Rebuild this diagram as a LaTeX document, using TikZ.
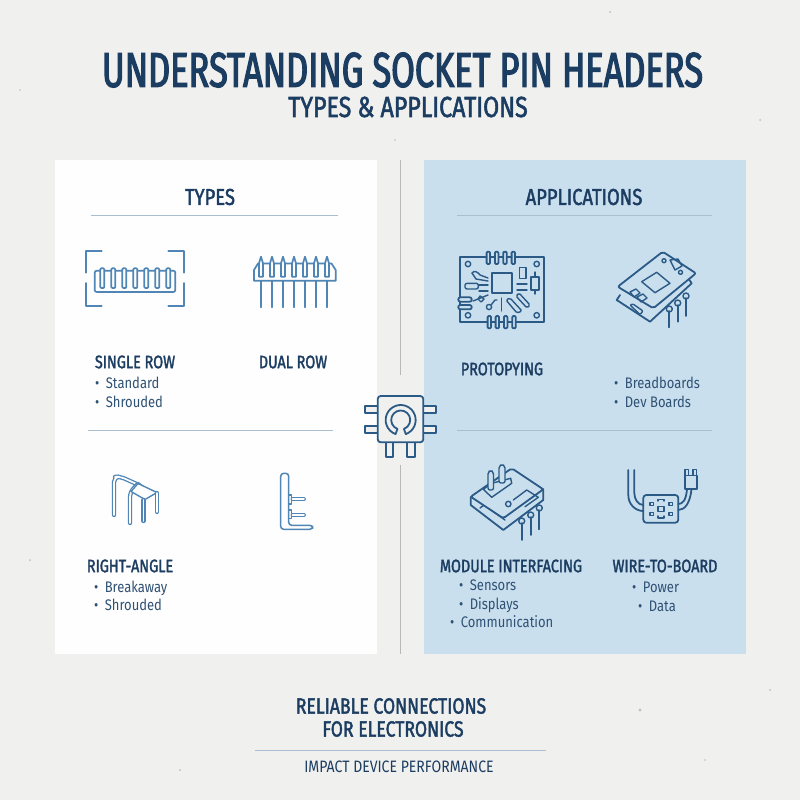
\documentclass[tikz,border=0pt]{standalone}
\usepackage{fontspec}
\setmainfont[FakeStretch=.85]{Fira Sans}
\newfontfamily\headfont[FakeStretch=.80,FakeBold=1.8]{Fira Sans}
\newfontfamily\titlefont[FakeStretch=.70,FakeBold=2.4]{Fira Sans}
\usetikzlibrary{positioning}
\definecolor{paper}{HTML}{F0F0EE}
\definecolor{panelblue}{HTML}{CADFEE}
\definecolor{navy}{HTML}{1C3D62}
\definecolor{itemblue}{HTML}{2F5174}
\definecolor{iconlight}{HTML}{4F86B5}
\definecolor{icondark}{HTML}{2B5A86}
\definecolor{rulelight}{HTML}{A9BFD0}
\tikzset{
	headtext/.style={text=navy,inner sep=0pt,font=\headfont\fontsize{18}{18}\selectfont},
	itemtext/.style={text=itemblue,anchor=west,inner sep=0pt,text height=10.5pt,text depth=0pt,font=\fontsize{15.3}{15.3}\selectfont},
	sectext/.style={text=navy,inner sep=0pt,font=\headfont\fontsize{23}{23}\selectfont},
	foottext/.style={text=navy,inner sep=0pt,font=\headfont\fontsize{22}{22}\selectfont},
	divider/.style={rulelight,line width=1pt},
	iconl/.style={iconlight,line width=1.7pt,line join=round,line cap=round},
	icond/.style={icondark,line width=1.8pt,line join=round,line cap=round},
	iconthin/.style={icondark,line width=1.4pt,line join=round,line cap=round},
	tubel/.style={iconlight,line width=1.3pt,double=white,double distance=1.7pt,line cap=round,line join=round},
}
\newcommand{\itembullet}{•\hspace{.42em}}
\begin{document}
\begin{tikzpicture}[x=1pt,y=-1pt]
	\useasboundingbox (0,0) rectangle (800,800);
	\fill[paper] (0,0) rectangle (800,800);
	\foreach \sx/\sy/\sr in {640/710/1.6,610/12/1,760/120/1,30/560/1,180/770/1,395/140/.8,770/690/1,20/90/.8,705/760/.8}
		\fill[black!25] (\sx,\sy) circle (\sr);
	\fill[white!70!paper!20!white] (55,160) rectangle (377,654);
	\fill[panelblue] (424,160) rectangle (746,654);
	\draw[black!28,line width=1pt] (400,160) -- (400,375);
	\draw[black!28,line width=1pt] (400,465) -- (400,654);

	\node[text=navy,inner sep=0pt,font=\titlefont\fontsize{49}{49}\selectfont] (title) at (402.5,70) {UNDERSTANDING SOCKET PIN HEADERS};
	\node[text=navy,inner sep=0pt,font=\headfont\fontsize{29}{29}\selectfont] (subtitle) at (408,107) {TYPES \& APPLICATIONS};

	\node[sectext] (types) at (210,197) {TYPES};
	\draw[divider] (91,215) -- (338,215);
	\node[sectext] (applications) at (584,197) {APPLICATIONS};
	\draw[divider] (457,215) -- (712,215);
	\draw[divider] (88,430) -- (333,430);
	\draw[divider] (457,430) -- (712,430);

	\node[headtext] (single) at (135,362) {SINGLE ROW};
	\node[itemtext] (single1) at (95,383) {\itembullet Standard};
	\node[itemtext] (single2) at (95,402) {\itembullet Shrouded};
	\node[headtext] (dual) at (293,362) {DUAL ROW};
	\node[headtext] (angle) at (130,566) {RIGHT-ANGLE};
	\node[itemtext] (angle1) at (94,587) {\itembullet Breakaway};
	\node[itemtext] (angle2) at (94,605) {\itembullet Shrouded};
	\node[headtext] (proto) at (502,369) {PROTOPYING};
	\node[itemtext] (proto1) at (614,383) {\itembullet Breadboards};
	\node[itemtext] (proto2) at (614,402) {\itembullet Dev Boards};
	\node[headtext] (module) at (511,566) {MODULE INTERFACING};
	\node[itemtext] (module1) at (459,585) {\itembullet Sensors};
	\node[itemtext] (module2) at (459,604) {\itembullet Displays};
	\node[itemtext] (module3) at (450,622) {\itembullet Communication};
	\node[headtext] (wire) at (665,566) {WIRE-TO-BOARD};
	\node[itemtext] (wire1) at (632,587) {\itembullet Power};
	\node[itemtext] (wire2) at (638,606) {\itembullet Data};

	\node[foottext] (reliable) at (391,706) {RELIABLE CONNECTIONS};
	\node[foottext] (electronics) at (393,729) {FOR ELECTRONICS};
	\draw[divider] (255,750) -- (546,750);
	\node[text=navy,inner sep=0pt,font=\fontsize{16.5}{16.5}\selectfont] (impact) at (399,767) {IMPACT DEVICE PERFORMANCE};

	\draw[iconl] (86,272.7) -- (86,250.7) -- (101.7,250.7);
	\draw[iconl] (168.3,250.7) -- (183.7,250.7) -- (183.7,272.7);
	\draw[iconl] (86,283) -- (86,306) -- (101.7,306);
	\draw[iconl] (168.3,306) -- (183.7,306) -- (183.7,283);
	\draw[iconl,rounded corners=2pt] (94.7,270.7) rectangle (175.3,292);
	\foreach \i in {0,...,6}
		\draw[iconl,fill=white,rounded corners=1pt] ({100.3+11*\i},268.3) rectangle ({104.3+11*\i},288);

	\draw[iconl] (254,270) -- (258,263.5) -- (331.5,263.5) -- (335.7,270) -- (335.7,280.7) -- (254,280.7) -- cycle;
	\foreach \i in {0,...,6} {
		\draw[iconl,fill=white] ({259+11*\i},276.7) -- ({259+11*\i},263.3) -- ({261+11*\i},256.7) -- ({263+11*\i},263.3) -- ({263+11*\i},276.7) -- cycle;
		\draw[iconl] ({261+11*\i},280.7) -- ({261+11*\i},307.3);
	}

	\draw[tubel,rounded corners=5pt] (114,515) -- (114,477) -- (120,476.5) -- (140,485.5);
	\draw[tubel,rounded corners=5pt] (130,523) -- (130,492) -- (138,484);
	\draw[iconl,fill=white,line width=1.4pt] (138,483.5) -- (157,492.5) -- (145,499.5) -- (131,491.5) -- cycle;
	\draw[tubel] (143.5,500) -- (143.5,521);
	\draw[tubel] (157,493) -- (157,512);

	\draw[iconl,line width=1.5pt,rounded corners=3pt] (280.7,473.3) -- (288.7,473.3) -- (288.7,525.3) -- (312.7,525.3) -- (312.7,529.3) -- (280.7,529.3) -- cycle;
	\draw[iconl,line width=1.3pt] (288.7,495) -- (291.7,495) -- (291.7,504) -- (288.7,504);
	\draw[iconl,line width=1.3pt] (288.7,510) -- (291.7,510) -- (291.7,518.3) -- (288.7,518.3);
	\draw[tubel,line width=1.1pt] (292.5,499.3) -- (304,499.3);
	\draw[tubel,line width=1.1pt] (292.5,515) -- (304,515);

	\draw[icond] (460,257.3) rectangle (544,322.3);
	\foreach \cx in {488.3,496.7,505,513.3}
		\draw[icond,fill=panelblue,rounded corners=1pt] (\cx-1.7,251.7) rectangle (\cx+1.7,264);
	\foreach \cx in {489.3,497.3,505.7,514}
		\draw[icond,fill=panelblue,rounded corners=1pt] (\cx-1.7,316) rectangle (\cx+1.7,328.3);
	\foreach \cx/\cy in {468/264,536.7/264,468/315.3,536.7/315.3}
		\draw[iconthin] (\cx,\cy) circle (2.7);
	\draw[icond] (491.7,273.3) rectangle (511.7,293.3);
	\draw[iconthin] (519.3,267.3) rectangle (526,278.3);
	\draw[iconthin] (535,272) -- (535,277);
	\draw[iconthin] (535,290) -- (535,294);
	\draw[iconthin] (531,277) rectangle (539,290);
	\draw[icond,fill=panelblue,rounded corners=2pt] (458.3,297.3) rectangle (471.7,301.7);
	\draw[icond,fill=panelblue,rounded corners=2pt] (458.3,305) rectangle (471.7,309.3);
	\draw[iconthin,rounded corners=2pt] (465,283.3) rectangle (478.3,289);
	\draw[iconthin] (478.3,285) -- (488,285);
	\draw[iconthin] (479,291) -- (488,291);
	\draw[iconthin] (473,301) -- (488,295);
	\draw[iconthin] (472,273) .. controls (474,270) and (478,272) .. (480,275) -- (488,278);
	\draw[iconthin] (472,273) -- (476,279) -- (488,281);
	\draw[iconthin] (517,284) -- (527,284);
	\draw[iconthin] (517,290) -- (527,290);
	\draw[iconthin,rounded corners=1.5pt] (516,296) -- (519,293) -- (530,305) -- (527,308) -- cycle;
	\draw[iconthin,rounded corners=1.5pt] (506,300) -- (510,298) -- (522,311) -- (517,313) -- cycle;
	\draw[iconthin] (480,296) -- (484,299) -- (481,302) -- (478,299) -- cycle;
	\draw[iconthin] (491,305) -- (495,300) -- (497,300);
	\draw[iconthin] (489,307) circle (2.6);
	\draw[iconthin] (501.5,298) -- (501.5,311);

	\draw[icond,fill=panelblue] (620,295) -- (616.7,300) -- (650,321.7) -- (691.7,283.3) -- (688,278);
	\draw[iconthin,rounded corners=1pt] (630,305) -- (633,304) -- (643,311) -- (640,314.5) -- cycle;
	\draw[icond,fill=panelblue,rounded corners=2pt] (662.7,251.7) -- (696,273.3) -- (653.3,308.3) -- (617.7,286.7) -- cycle;
	\draw[iconthin] (656.7,272.3) -- (670,283.3) -- (655,292.7) -- (641.7,281.7) -- cycle;
	\draw[iconthin] (670,260) -- (678,259) -- (682,266) -- (675,270) -- cycle;
	\draw[iconthin] (664,260.7) circle (2);
	\draw[iconthin] (680.5,272.3) circle (2);
	\draw[iconthin] (630,292) -- (636,289) -- (640,293) -- (634,297) -- cycle;
	\draw[iconthin] (637,297) -- (643,294) -- (647,298) -- (641,302) -- cycle;
	\foreach \cx/\ca/\cb in {669.3/311/327.3,677.7/305/321.7,686/298/316} {
		\draw[icond] (\cx,\ca) -- (\cx,\cb);
		\draw[iconthin] (\cx,\ca-2) circle (3);
	}

	\draw[icond,fill=panelblue] (470.7,497) -- (470.7,505) -- (503.3,530) -- (543.3,500) -- (543.3,489);
	\draw[iconthin] (480,508) -- (484,505) -- (505,520);
	\draw[icond,fill=panelblue,rounded corners=2pt] (511.7,468.3) -- (543.3,489.3) -- (503.3,518.3) -- (470.7,496.7) -- cycle;
	\draw[iconthin] (483.3,489.3) -- (491.7,483.3) -- (510.7,478.3) -- (511.7,483.3) -- (491.7,497.3) -- cycle;
	\draw[iconthin,fill=panelblue,rounded corners=2pt] (488,490) -- (488,472) -- (490.7,470) -- (493.5,472) -- (493.5,490) -- cycle;
	\draw[iconthin,fill=panelblue,rounded corners=2pt] (499,483) -- (499,466) -- (502,464) -- (505,466) -- (505,483) -- cycle;
	\draw[iconthin] (513.3,500) -- (526.7,490) -- (538.3,497.3) -- (525,506.7);
	\draw[iconthin] (508.3,504) circle (2.7);
	\foreach \cx/\ca/\cb in {521.7/523/540,530.7/517/535,539.3/510/529.3} {
		\draw[icond] (\cx,\ca) -- (\cx,\cb);
		\draw[iconthin] (\cx,\ca-2) circle (3);
	}

	\draw[icond,rounded corners=3pt] (643.3,495) rectangle (678.3,522.7);
	\draw[icond] (628.3,470) -- (628.3,495) .. controls (628.3,505) and (636,511) .. (643.3,511);
	\draw[icond] (634.3,470) -- (634.3,493) .. controls (634.3,499) and (638,505) .. (643.3,505);
	\draw[icond] (678.3,510) .. controls (685,510) and (690,503) .. (691.5,489.3);
	\draw[icond] (678.3,504) .. controls (683,504) and (686,500) .. (687,489.3);
	\draw[icond,fill=panelblue] (685,475.5) rectangle (696.7,489.3);
	\draw[iconthin] (685,469.5) rectangle (688.5,475.5);
	\draw[iconthin] (693,469.5) rectangle (696.7,475.5);
	\foreach \cx/\cy in {651.5/504,670.5/504,651.5/514,670.5/514}
		\draw[iconthin] (\cx-1.7,\cy-1.7) rectangle (\cx+1.7,\cy+1.7);
	\draw[iconthin] (658,506.5) rectangle (664,511.5);
	\draw[iconthin] (658,501) -- (658,499.5) -- (664,499.5) -- (664,501);
	\draw[iconthin] (658,516) -- (658,518) -- (664,518) -- (664,516);

	\foreach \cy in {406,426} {
		\draw[icond,fill=paper] (365,\cy) rectangle (377.7,\cy+7.3);
		\draw[icond,fill=paper] (423.3,\cy) rectangle (436,\cy+7.3);
	}
	\foreach \cx in {386,407.3}
		\draw[icond,fill=paper] (\cx,442.3) rectangle (\cx+7.3,457.3);
	\draw[icond,fill=paper,rounded corners=3pt] (377.7,396) rectangle (423.3,442.3);
	\draw[icond] (405.8,434.1) arc[start angle=-70,end angle=250,radius=15pt] -- (397.45,428.9) arc[start angle=250,end angle=-70,radius=9.5pt] -- cycle;
\end{tikzpicture}
\end{document}
